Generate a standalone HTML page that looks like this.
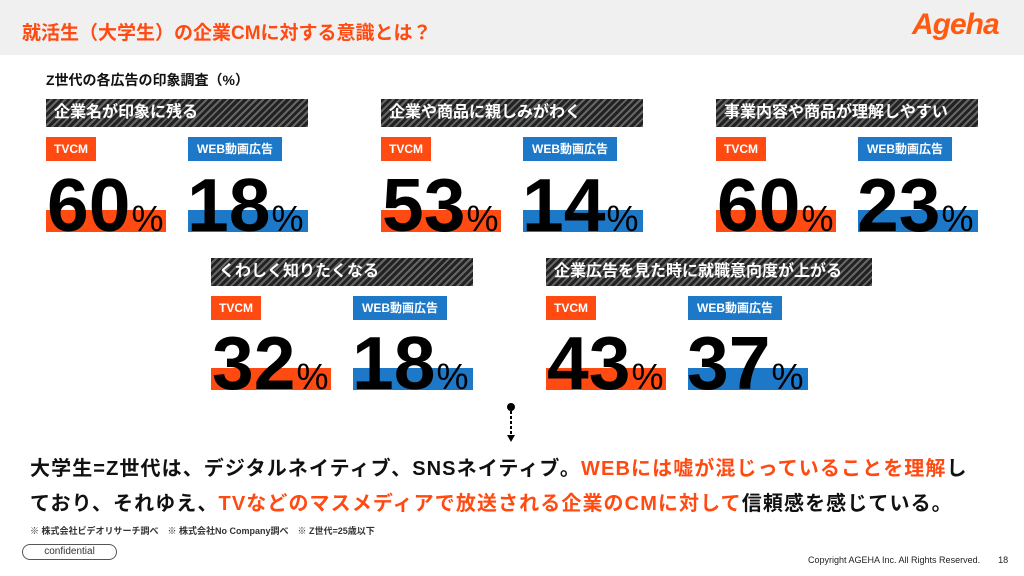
<!DOCTYPE html>
<html><head><meta charset="utf-8"><style>
*{margin:0;padding:0;box-sizing:border-box}
body{width:1024px;height:576px;background:#fff;position:relative;overflow:hidden;font-family:"Liberation Sans","Noto Sans CJK JP",sans-serif;font-weight:bold;color:#111}
.a{position:absolute;white-space:nowrap}
.hatch{position:absolute;height:28px;background:repeating-linear-gradient(135deg,#222 0 3px,#666 3px 5px);color:#fff;font-size:16px;line-height:28px;padding-left:8px}
.lab{position:absolute;height:24px;color:#fff;font-size:12px;line-height:24px;text-align:center}
.o{background:#ff4a12}.b{background:#1e78c8}
.bar{position:absolute;height:22px}
.num{position:absolute;font-size:75px;line-height:75px;letter-spacing:0;color:#000;font-family:"Liberation Sans",sans-serif;font-weight:bold}
.num span{font-size:36px;letter-spacing:0;font-weight:normal;margin-left:1px}
</style></head><body>
<div class="a" style="left:0;top:0;width:1024px;height:55px;background:#f0f0f0"></div>
<div class="a" style="left:22px;top:18px;font-size:19px;color:#ff4a12">就活生（大学生）の企業CMに対する意識とは？</div>
<div class="a" style="left:912px;top:8px;font-size:30px;color:#ff5a10;font-style:italic;letter-spacing:-1px">Ageha</div>
<div class="a" style="left:46px;top:70px;font-size:14px">Z世代の各広告の印象調査（%）</div>

<div class="hatch" style="left:46px;top:99px;width:262px">企業名が印象に残る</div>
<div class="lab o" style="left:46px;top:137px;width:50px">TVCM</div>
<div class="lab b" style="left:188px;top:137px;width:94px">WEB動画広告</div>
<div class="bar o" style="left:46px;top:210px;width:120px"></div>
<div class="bar b" style="left:188px;top:210px;width:120px"></div>
<div class="num" style="left:47px;top:168px">60<span>%</span></div>
<div class="num" style="left:187px;top:168px">18<span>%</span></div>

<div class="hatch" style="left:381px;top:99px;width:262px">企業や商品に親しみがわく</div>
<div class="lab o" style="left:381px;top:137px;width:50px">TVCM</div>
<div class="lab b" style="left:523px;top:137px;width:94px">WEB動画広告</div>
<div class="bar o" style="left:381px;top:210px;width:120px"></div>
<div class="bar b" style="left:523px;top:210px;width:120px"></div>
<div class="num" style="left:382px;top:168px">53<span>%</span></div>
<div class="num" style="left:522px;top:168px">14<span>%</span></div>

<div class="hatch" style="left:716px;top:99px;width:262px">事業内容や商品が理解しやすい</div>
<div class="lab o" style="left:716px;top:137px;width:50px">TVCM</div>
<div class="lab b" style="left:858px;top:137px;width:94px">WEB動画広告</div>
<div class="bar o" style="left:716px;top:210px;width:120px"></div>
<div class="bar b" style="left:858px;top:210px;width:120px"></div>
<div class="num" style="left:717px;top:168px">60<span>%</span></div>
<div class="num" style="left:857px;top:168px">23<span>%</span></div>

<div class="hatch" style="left:211px;top:258px;width:262px">くわしく知りたくなる</div>
<div class="lab o" style="left:211px;top:296px;width:50px">TVCM</div>
<div class="lab b" style="left:353px;top:296px;width:94px">WEB動画広告</div>
<div class="bar o" style="left:211px;top:368px;width:120px"></div>
<div class="bar b" style="left:353px;top:368px;width:120px"></div>
<div class="num" style="left:212px;top:326px">32<span>%</span></div>
<div class="num" style="left:352px;top:326px">18<span>%</span></div>

<div class="hatch" style="left:546px;top:258px;width:326px">企業広告を見た時に就職意向度が上がる</div>
<div class="lab o" style="left:546px;top:296px;width:50px">TVCM</div>
<div class="lab b" style="left:688px;top:296px;width:94px">WEB動画広告</div>
<div class="bar o" style="left:546px;top:368px;width:120px"></div>
<div class="bar b" style="left:688px;top:368px;width:120px"></div>
<div class="num" style="left:547px;top:326px">43<span>%</span></div>
<div class="num" style="left:687px;top:326px">37<span>%</span></div>

<svg class="a" style="left:504px;top:402px" width="14" height="42"><circle cx="7" cy="5" r="4" fill="#000"/><line x1="7" y1="9" x2="7" y2="34" stroke="#000" stroke-width="2" stroke-dasharray="3,2"/><path d="M3 33 L11 33 L7 40Z" fill="#000"/></svg>
<div class="a" style="left:30px;top:452px;font-size:20px;letter-spacing:1.1px">大学生=Z世代は、デジタルネイティブ、SNSネイティブ。<span style="color:#ff4a12">WEBには嘘が混じっていることを理解</span>し</div>
<div class="a" style="left:30px;top:487px;font-size:20px;letter-spacing:1.1px">ており、それゆえ、<span style="color:#ff4a12">TVなどのマスメディアで放送される企業のCMに対して</span>信頼感を感じている。</div>
<div class="a" style="left:30px;top:524px;font-size:9px;color:#333">※ 株式会社ビデオリサーチ調べ　※ 株式会社No Company調べ　※ Z世代=25歳以下</div>
<div class="a" style="left:22px;top:544px;width:95px;height:16px;border:1px solid #555;border-radius:8px;font-size:10px;font-weight:normal;text-align:center;line-height:14px;color:#333">confidential</div>
<div class="a" style="left:808px;top:553px;font-size:9px;font-weight:normal;color:#222">Copyright AGEHA Inc. All Rights Reserved.　　18</div>
</body></html>
